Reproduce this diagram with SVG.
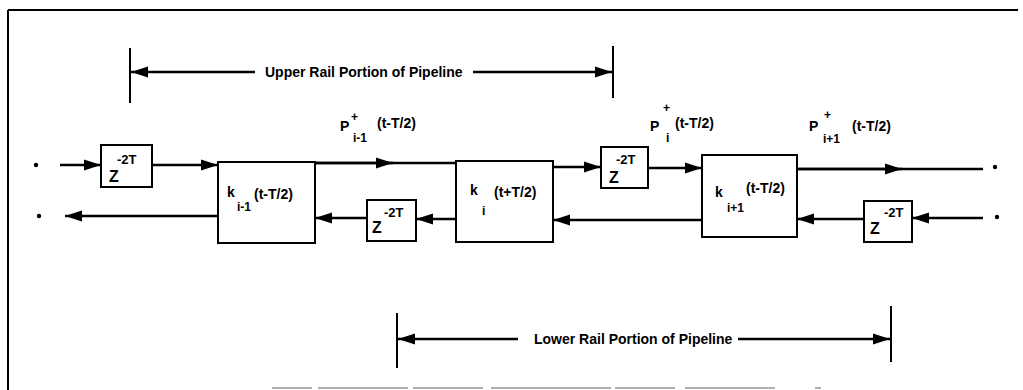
<svg xmlns="http://www.w3.org/2000/svg" width="1023" height="390" viewBox="0 0 1023 390">
<style>
.box{fill:#fff;stroke:#000;stroke-width:2}
.ln{fill:none;stroke:#000;stroke-width:2.5}
.bar{fill:none;stroke:#000;stroke-width:2}
.t{font-family:"Liberation Sans",Arial,sans-serif;font-weight:bold;fill:#000}
.lab{font-size:14px}
.sub{font-size:12px}
.z{font-size:16px}
.sup{font-size:13px}
.cap{font-size:14px}
</style>
<defs>
<marker id="ah" markerUnits="userSpaceOnUse" markerWidth="18" markerHeight="12" refX="17" refY="6" orient="auto">
<path d="M0,0.5 L17,6 L0,11.5 z" fill="#000"/>
</marker>
</defs>
<rect width="1023" height="390" fill="#fff"/>
<g id="frame">
<path d="M8,10 H1018 M8,10 V390" class="bar" stroke-width="2.5"/>
<path d="M272,388 H880" fill="none" stroke="#b0b0b0" stroke-width="2" stroke-dasharray="40 6 90 5 70 8 120 4 60 10 90"/>
</g>
<g id="connectors">
<path class="ln" d="M60,165 H101" marker-end="url(#ah)"/>
<path class="ln" d="M152,165 H218" marker-end="url(#ah)"/>
<path class="ln" d="M315,163 H456"/>
<path class="ln" d="M315,163 H393" marker-end="url(#ah)"/>
<path class="ln" d="M553,167 H601" marker-end="url(#ah)"/>
<path class="ln" d="M648,168 H702" marker-end="url(#ah)"/>
<path class="ln" d="M797,169 H983"/>
<path class="ln" d="M797,169 H902" marker-end="url(#ah)"/>
<path class="ln" d="M983,218 H912" marker-end="url(#ah)"/>
<path class="ln" d="M864,219 H797" marker-end="url(#ah)"/>
<path class="ln" d="M702,220 H553" marker-end="url(#ah)"/>
<path class="ln" d="M456,219 H416" marker-end="url(#ah)"/>
<path class="ln" d="M367,218 H315" marker-end="url(#ah)"/>
<path class="ln" d="M218,216 H65" marker-end="url(#ah)"/>
<circle cx="36" cy="165" r="2.2"/>
<circle cx="39" cy="216" r="2.2"/>
<circle cx="995" cy="167" r="2.2"/>
<circle cx="997" cy="217" r="2.2"/>
</g>
<g id="upper-rail-span">
<path class="bar" d="M130,48 V103 M613,46 V98"/>
<path class="ln" d="M255,72 H131" marker-end="url(#ah)"/>
<path class="ln" d="M473,72 H612" marker-end="url(#ah)"/>
<text class="t cap" x="265" y="77">Upper Rail Portion of Pipeline</text>
</g>
<g id="lower-rail-span">
<path class="bar" d="M397,313 V368 M891,306 V362"/>
<path class="ln" d="M518,339 H398" marker-end="url(#ah)"/>
<path class="ln" d="M738,339 H890" marker-end="url(#ah)"/>
<text class="t cap" x="534" y="344">Lower Rail Portion of Pipeline</text>
</g>
<g id="z1">
<rect class="box" x="101" y="145" width="51" height="42"/>
<text class="t z" x="109" y="182">Z</text>
<text class="t sup" x="117" y="164">-2T</text>
</g>
<g id="k-im1">
<rect class="box" x="218" y="162" width="97" height="81"/>
<text class="t lab" x="227" y="197">k</text>
<text class="t sub" x="237" y="211">i-1</text>
<text class="t lab" x="254" y="199">(t-T/2)</text>
</g>
<g id="z3">
<rect class="box" x="367" y="200" width="49" height="41"/>
<text class="t z" x="372" y="233">Z</text>
<text class="t sup" x="384" y="217">-2T</text>
</g>
<g id="k-i">
<rect class="box" x="456" y="161" width="97" height="81"/>
<text class="t lab" x="470" y="195">k</text>
<text class="t sub" x="482" y="215">i</text>
<text class="t lab" x="494" y="197">(t+T/2)</text>
</g>
<g id="z2">
<rect class="box" x="601" y="147" width="47" height="41"/>
<text class="t z" x="609" y="183">Z</text>
<text class="t sup" x="616" y="164">-2T</text>
</g>
<g id="k-ip1">
<rect class="box" x="702" y="155" width="95" height="82"/>
<text class="t lab" x="715" y="197">k</text>
<text class="t sub" x="727" y="212">i+1</text>
<text class="t lab" x="746" y="193">(t-T/2)</text>
</g>
<g id="z4">
<rect class="box" x="864" y="201" width="48" height="41"/>
<text class="t z" x="870" y="234">Z</text>
<text class="t sup" x="884" y="217">-2T</text>
</g>
<g id="label-p-im1">
<text class="t lab" x="340" y="131">P</text>
<text class="t sub" x="351" y="121">+</text>
<text class="t sub" x="353" y="142">i-1</text>
<text class="t lab" x="377" y="128">(t-T/2)</text>
</g>
<g id="label-p-i">
<text class="t lab" x="650" y="131">P</text>
<text class="t sub" x="663" y="112">+</text>
<text class="t sub" x="666" y="142">i</text>
<text class="t lab" x="675" y="128">(t-T/2)</text>
</g>
<g id="label-p-ip1">
<text class="t lab" x="809" y="131">P</text>
<text class="t sub" x="824" y="119">+</text>
<text class="t sub" x="823" y="143">i+1</text>
<text class="t lab" x="852" y="131">(t-T/2)</text>
</g>
</svg>
